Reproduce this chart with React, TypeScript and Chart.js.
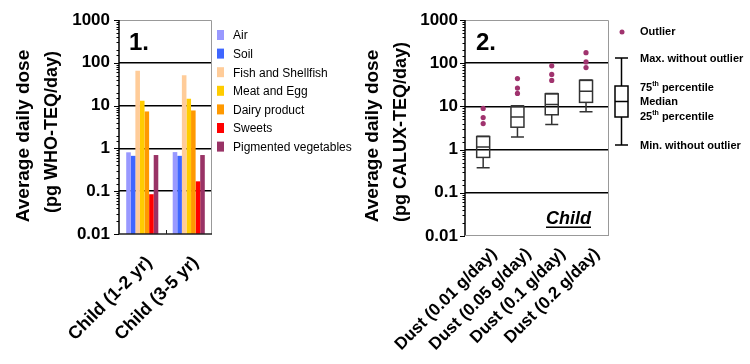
import React, { useEffect, useRef } from 'react';
import { Chart, registerables } from 'chart.js';
Chart.register(...registerables);

const FONT = "'Liberation Sans', Arial, Helvetica, sans-serif";

// ---------- Panel 1 data ----------
const childGroups = ['Child (1-2 yr)', 'Child (3-5 yr)'];
const sourceNames = ['Air', 'Soil', 'Fish and Shellfish', 'Meat and Egg', 'Dairy product', 'Sweets', 'Pigmented vegetables'];
const sourceColors = ['#9999ff', '#3f66ff', '#ffcc99', '#ffcc00', '#ff9900', '#ff0000', '#993366'];
const airDose = [0.81, 0.82];
const soilDose = [0.67, 0.67];
const fishDose = [65, 51];
const meatDose = [13, 14.5];
const dairyDose = [7.3, 7.7];
const sweetsDose = [0.085, 0.17];
const pigmentedDose = [0.7, 0.7];
const sourceValues = [airDose, soilDose, fishDose, meatDose, dairyDose, sweetsDose, pigmentedDose];

// ---------- Panel 2 data ----------
const dustLabels = ['Dust (0.01 g/day)', 'Dust (0.05 g/day)', 'Dust (0.1 g/day)', 'Dust (0.2 g/day)'];
const dustMin = [0.38, 1.95, 3.8, 7.5];
const dustQ1 = [0.66, 3.3, 6.4, 12.4];
const dustMedian = [1.15, 5.7, 11, 22.5];
const dustQ3 = [2.0, 10, 19.5, 40];
const dustMax = [2.05, 10.3, 20, 41];
const dustOutliers = [[4.0, 5.5, 9], [20, 26.5, 44], [40, 55, 87], [79, 107, 175]];

// ---------- text ----------
const yTickValues = [0.01, 0.1, 1, 10, 100, 1000];
const gridValues = [0.1, 1, 10, 100];
const leftTitle = ['Average daily dose', '(pg WHO-TEQ/day)'];
const rightTitle = ['Average daily dose', '(pg CALUX-TEQ/day)'];
const panelTags = ['1.', '2.'];
const childTag = 'Child';
const boxLegend = ['Outlier', 'Max. without outlier', '75', 'th', ' percentile', 'Median', '25', 'th', ' percentile', 'Min. without outlier'];

const isMajor = (v: number) => {
  const l = Math.log10(v);
  return Math.abs(l - Math.round(l)) < 1e-6;
};

function makeY(width: number, pad: number) {
  return {
    type: 'logarithmic',
    min: 0.01,
    max: 1000,
    border: { display: false },
    grid: {
      drawTicks: false,
      color: (c: any) => (c.tick && gridValues.some((g) => Math.abs(g - c.tick.value) < 1e-9) ? '#000' : 'rgba(0,0,0,0)'),
      lineWidth: 1.5,
    },
    ticks: {
      autoSkip: false,
      padding: pad,
      color: '#000',
      font: { family: FONT, size: 17, weight: 'bold' },
      callback: (v: any) => {
        const n = Number(v);
        if (!isMajor(n)) return '';
        const found = yTickValues.find((t) => Math.abs(t - n) / t < 1e-6);
        return found !== undefined ? String(found) : '';
      },
    },
    afterFit: (s: any) => {
      s.width = width;
      s.paddingTop = 0;
      s.paddingBottom = 0;
    },
  };
}

function drawYAxis(chart: any) {
  const { ctx, chartArea, scales } = chart;
  const y = scales.y;
  const { left, right, top, bottom } = chartArea;
  ctx.save();
  ctx.strokeStyle = '#999';
  ctx.lineWidth = 1;
  ctx.beginPath();
  ctx.moveTo(left, top + 0.5);
  ctx.lineTo(right - 0.5, top + 0.5);
  ctx.lineTo(right - 0.5, bottom);
  ctx.stroke();
  ctx.strokeStyle = '#000';
  ctx.lineWidth = 1;
  y.ticks.forEach((t: any) => {
    const py = Math.round(y.getPixelForValue(t.value)) + 0.5;
    const len = isMajor(t.value) ? 5 : 2.5;
    ctx.beginPath();
    ctx.moveTo(left - len, py);
    ctx.lineTo(left, py);
    ctx.stroke();
  });
  ctx.lineWidth = 1.5;
  ctx.beginPath();
  ctx.moveTo(left, top);
  ctx.lineTo(left, bottom);
  ctx.stroke();
  ctx.restore();
}

function drawTitle(ctx: any, lines: string[], x1: number, x2: number, cy1: number, cy2: number) {
  ctx.save();
  ctx.fillStyle = '#000';
  ctx.textAlign = 'center';
  ctx.textBaseline = 'middle';
  ctx.translate(x1, cy1);
  ctx.rotate(-Math.PI / 2);
  ctx.font = `bold 19px ${FONT}`;
  ctx.fillText(lines[0], 0, 0);
  ctx.restore();
  ctx.save();
  ctx.fillStyle = '#000';
  ctx.textAlign = 'center';
  ctx.textBaseline = 'middle';
  ctx.translate(x2, cy2);
  ctx.rotate(-Math.PI / 2);
  ctx.font = `bold 18px ${FONT}`;
  ctx.fillText(lines[1], 0, 0);
  ctx.restore();
}

const leftDecor = {
  id: 'leftDecor',
  afterDraw(chart: any) {
    const { ctx, chartArea, scales } = chart;
    const { left, right, bottom } = chartArea;
    drawYAxis(chart);
    ctx.save();
    ctx.strokeStyle = '#222';
    ctx.lineWidth = 1.5;
    ctx.beginPath();
    ctx.moveTo(left, bottom);
    ctx.lineTo(right, bottom);
    ctx.stroke();
    const x = scales.x;
    ctx.lineWidth = 1;
    for (let i = 1; i < childGroups.length; i++) {
      const px = Math.round((x.getPixelForValue(i - 1) + x.getPixelForValue(i)) / 2) + 0.5;
      ctx.beginPath();
      ctx.moveTo(px, bottom);
      ctx.lineTo(px, bottom - 4);
      ctx.stroke();
    }
    ctx.restore();
    drawTitle(ctx, leftTitle, 24, 52, 136, 132);
    ctx.save();
    ctx.fillStyle = '#000';
    ctx.font = `bold 24px ${FONT}`;
    ctx.textBaseline = 'middle';
    ctx.fillText(panelTags[0], 129, 43);
    // legend
    ctx.font = `12px ${FONT}`;
    sourceNames.forEach((name, i) => {
      const cy = 35 + i * 18.6;
      ctx.fillStyle = sourceColors[i];
      ctx.fillRect(217, cy - 5, 7, 10);
      ctx.fillStyle = '#000';
      ctx.fillText(name, 233, cy + 1);
    });
    ctx.restore();
  },
};

const rightDecor = {
  id: 'rightDecor',
  beforeDatasetsDraw(chart: any) {
    const { ctx, scales } = chart;
    const x = scales.x;
    const y = scales.y;
    const hw = 6.5;
    ctx.save();
    ctx.strokeStyle = '#333';
    ctx.lineWidth = 1.5;
    dustLabels.forEach((_, i) => {
      const cx = x.getPixelForValue(i + 1);
      const pMin = y.getPixelForValue(dustMin[i]);
      const pQ1 = y.getPixelForValue(dustQ1[i]);
      const pMed = y.getPixelForValue(dustMedian[i]);
      const pQ3 = y.getPixelForValue(dustQ3[i]);
      const pMax = y.getPixelForValue(dustMax[i]);
      ctx.strokeRect(cx - hw, pQ3, hw * 2, pQ1 - pQ3);
      ctx.beginPath();
      ctx.moveTo(cx - hw, pMed);
      ctx.lineTo(cx + hw, pMed);
      ctx.moveTo(cx, pQ1);
      ctx.lineTo(cx, pMin);
      ctx.moveTo(cx - hw, pMin);
      ctx.lineTo(cx + hw, pMin);
      ctx.moveTo(cx, pQ3);
      ctx.lineTo(cx, pMax);
      ctx.moveTo(cx - hw, pMax);
      ctx.lineTo(cx + hw, pMax);
      ctx.stroke();
    });
    ctx.restore();
  },
  afterDraw(chart: any) {
    const { ctx, chartArea } = chart;
    const { left, right, bottom } = chartArea;
    drawYAxis(chart);
    ctx.save();
    ctx.strokeStyle = '#999';
    ctx.lineWidth = 1;
    ctx.beginPath();
    ctx.moveTo(left, bottom - 0.5);
    ctx.lineTo(right, bottom - 0.5);
    ctx.stroke();
    ctx.restore();
    drawTitle(ctx, rightTitle, 373, 401, 136, 132);
    ctx.save();
    ctx.fillStyle = '#000';
    ctx.textBaseline = 'middle';
    ctx.font = `bold 24px ${FONT}`;
    ctx.fillText(panelTags[1], 476, 43);
    ctx.font = `italic bold 18px ${FONT}`;
    ctx.textBaseline = 'alphabetic';
    const cw = ctx.measureText(childTag).width;
    ctx.fillText(childTag, 546, 224);
    ctx.fillRect(546, 226.5, cw, 1.5);
    // box legend
    ctx.fillStyle = '#a0336e';
    ctx.beginPath();
    ctx.arc(622, 32, 2.5, 0, Math.PI * 2);
    ctx.fill();
    ctx.strokeStyle = '#000';
    ctx.lineWidth = 1.5;
    const bx = 621.5, bhw = 6.5;
    ctx.beginPath();
    ctx.moveTo(bx, 58);
    ctx.lineTo(bx, 86);
    ctx.moveTo(bx, 117);
    ctx.lineTo(bx, 145);
    ctx.moveTo(bx - bhw, 58);
    ctx.lineTo(bx + bhw, 58);
    ctx.moveTo(bx - bhw, 145);
    ctx.lineTo(bx + bhw, 145);
    ctx.moveTo(bx - bhw, 101.5);
    ctx.lineTo(bx + bhw, 101.5);
    ctx.stroke();
    ctx.strokeRect(bx - bhw, 86, bhw * 2, 31);
    ctx.fillStyle = '#000';
    ctx.textBaseline = 'middle';
    ctx.font = `bold 11px ${FONT}`;
    const tx = 640;
    ctx.fillText(boxLegend[0], tx, 32);
    ctx.fillText(boxLegend[1], tx, 59);
    const sup = (num: string, th: string, rest: string, cy: number) => {
      ctx.font = `bold 11px ${FONT}`;
      ctx.fillText(num, tx, cy);
      let w = ctx.measureText(num).width;
      ctx.font = `bold 7px ${FONT}`;
      ctx.fillText(th, tx + w, cy - 4);
      w += ctx.measureText(th).width;
      ctx.font = `bold 11px ${FONT}`;
      ctx.fillText(rest, tx + w, cy);
    };
    sup(boxLegend[2], boxLegend[3], boxLegend[4], 88);
    ctx.fillText(boxLegend[5], tx, 102);
    sup(boxLegend[6], boxLegend[7], boxLegend[8], 117);
    ctx.fillText(boxLegend[9], tx, 146);
    ctx.restore();
  },
};

export default function App() {
  const leftRef = useRef<HTMLCanvasElement | null>(null);
  const rightRef = useRef<HTMLCanvasElement | null>(null);

  useEffect(() => {
    const left = new Chart(leftRef.current as HTMLCanvasElement, {
      type: 'bar',
      data: {
        labels: childGroups,
        datasets: sourceNames.map((name, i) => ({
          label: name,
          data: sourceValues[i],
          backgroundColor: sourceColors[i],
          borderWidth: 0,
          barPercentage: 1,
          categoryPercentage: 0.69,
        })),
      },
      options: {
        responsive: false,
        animation: false,
        devicePixelRatio: 1,
        layout: { padding: { left: 0, top: 20, right: 750 - 212, bottom: 0 } },
        plugins: { legend: { display: false }, tooltip: { enabled: false } },
        scales: {
          x: {
            offset: true,
            grid: { display: false },
            border: { display: false },
            ticks: {
              minRotation: 45,
              maxRotation: 45,
              padding: 10,
              labelOffset: 7,
              color: '#000',
              font: { family: FONT, size: 18, weight: 'bold' },
            },
            afterFit: (s: any) => {
              s.height = 364 - 234;
              s.paddingLeft = 0;
              s.paddingRight = 0;
            },
          },
          y: makeY(119, 9),
        },
      } as any,
      plugins: [leftDecor],
    });

    const right = new Chart(rightRef.current as HTMLCanvasElement, {
      type: 'scatter',
      data: {
        datasets: [
          {
            label: 'Outlier',
            data: dustOutliers.flatMap((arr, i) => arr.map((v) => ({ x: i + 1, y: v }))),
            backgroundColor: '#a0336e',
            borderWidth: 0,
            pointRadius: 2.6,
          },
        ],
      },
      options: {
        responsive: false,
        animation: false,
        devicePixelRatio: 1,
        layout: { padding: { left: 0, top: 20, right: 750 - 609, bottom: 0 } },
        plugins: { legend: { display: false }, tooltip: { enabled: false } },
        scales: {
          x: {
            type: 'linear',
            min: 0.47,
            max: 4.67,
            grid: { display: false },
            border: { display: false },
            afterBuildTicks: (s: any) => {
              s.ticks = dustLabels.map((_, i) => ({ value: i + 1 }));
            },
            ticks: {
              autoSkip: false,
              minRotation: 45,
              maxRotation: 45,
              padding: 0,
              labelOffset: 11,
              color: '#000',
              font: { family: FONT, size: 17, weight: 'bold' },
              callback: (v: any) => dustLabels[Math.round(Number(v)) - 1] ?? '',
            },
            afterFit: (s: any) => {
              s.height = 364 - 236;
              s.paddingLeft = 0;
              s.paddingRight = 0;
            },
          },
          y: makeY(465, 7),
        },
      } as any,
      plugins: [rightDecor],
    });

    return () => {
      left.destroy();
      right.destroy();
    };
  }, []);

  return (
    <div style={{ position: 'fixed', left: 0, top: 0, width: 750, height: 364, background: '#fff', overflow: 'hidden' }}>
      <canvas ref={leftRef} width={750} height={364} style={{ position: 'absolute', left: 0, top: 0 }} />
      <canvas ref={rightRef} width={750} height={364} style={{ position: 'absolute', left: 0, top: 0 }} />
    </div>
  );
}
